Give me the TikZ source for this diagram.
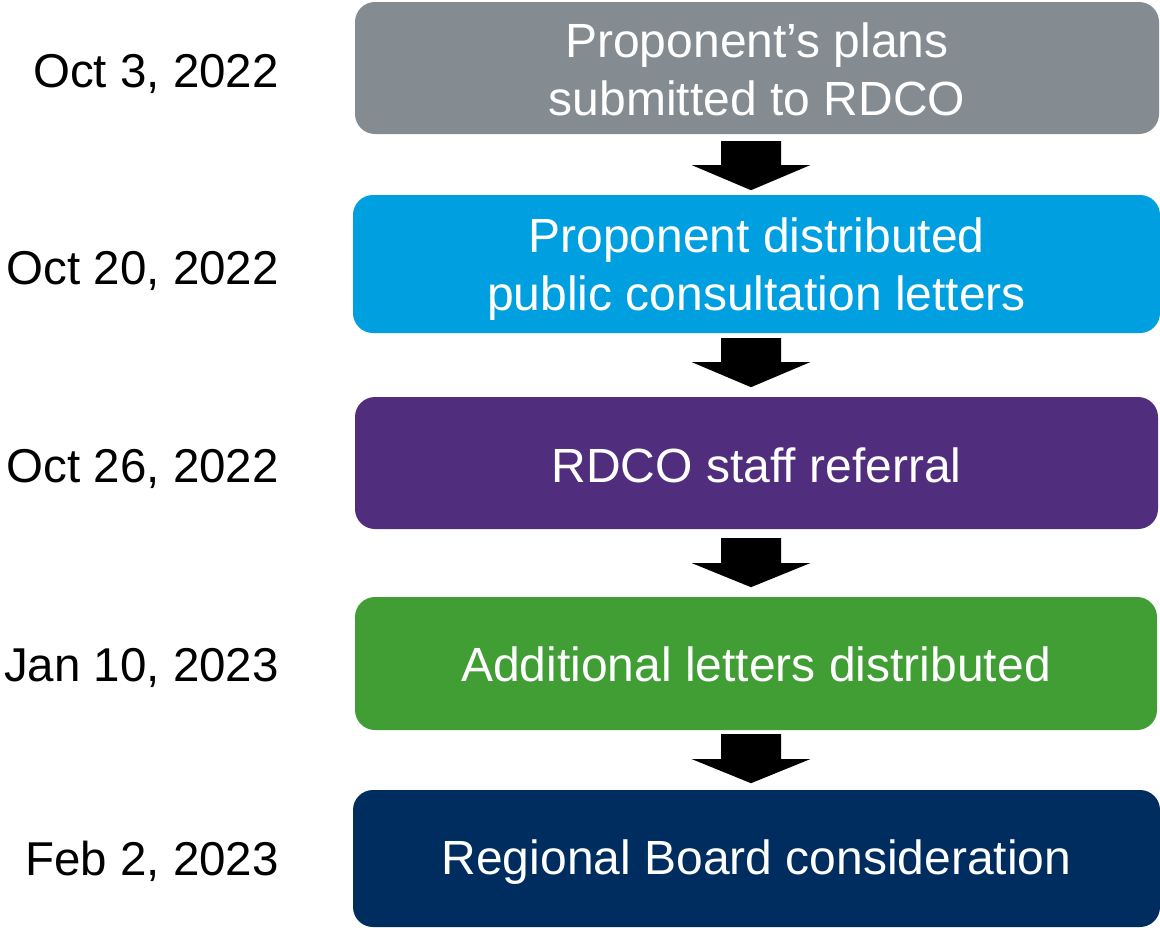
\documentclass[tikz,border=0pt]{standalone}
\usepackage{fontspec}
\setmainfont{Liberation Sans}
\usetikzlibrary{calc}
\definecolor{cgray}{HTML}{848B91}
\definecolor{ccyan}{HTML}{009FDF}
\definecolor{cpurple}{HTML}{512D7D}
\definecolor{cgreen}{HTML}{409E35}
\definecolor{cnavy}{HTML}{002D5F}
\tikzset{
  stepbox/.style={rounded corners=20pt, inner sep=0pt},
  steptext/.style={inner sep=0pt, text=white,
    font=\fontsize{48}{58}\selectfont, align=center},
  datelabel/.style={anchor=base east, inner sep=0pt, text=black,
    font=\fontsize{47.5}{58}\selectfont},
  blockarrow/.style={fill=black},
}
\newcommand{\blkarrow}[3]{% start coordinate, widen offset, tip offset
  \fill[blockarrow] (#1) ++(-30,0) -- ++(60,0) -- ++(0,#2) -- ++(29,0)
    -- ($(#1)+(0,#3)$) -- ($(#1)+(-59,#2)$) -- ($(#1)+(-30,#2)$) -- cycle;}
\begin{document}
\begin{tikzpicture}[x=1pt,y=-1pt]
\useasboundingbox[fill=white] (0,0) rectangle (1160,927);
\node[stepbox, fill=cgray, minimum width=804pt, minimum height=132pt] (b1) at (757,68) {};
\node[stepbox, fill=ccyan, minimum width=807pt, minimum height=138pt] (b2) at (756.5,264) {};
\node[stepbox, fill=cpurple, minimum width=803pt, minimum height=132pt] (b3) at (756.5,463) {};
\node[stepbox, fill=cgreen, minimum width=802pt, minimum height=133pt] (b4) at (756,663.5) {};
\node[stepbox, fill=cnavy, minimum width=807pt, minimum height=137pt] (b5) at (756.5,858.5) {};

\node[steptext] (t1) at ($(b1.center)+(0,1)$) {Proponent’s plans\\submitted to RDCO};
\node[steptext] (t2) at ($(b2.center)+(0,5)$) {Proponent distributed\\public consultation letters};
\node[steptext] (t3) at ($(b3.center)+(0,2)$) {RDCO staff referral};
\node[steptext] (t4) at ($(b4.center)+(0,1)$) {Additional letters distributed};
\node[steptext] (t5) at ($(b5.center)+(0,4)$) {Regional Board consideration};

\node[datelabel] (d1) at (279,87) {Oct 3, 2022};
\node[datelabel] (d2) at (279,284) {Oct 20, 2022};
\node[datelabel] (d3) at (279,482) {Oct 26, 2022};
\node[datelabel] (d4) at (279,681) {Jan 10, 2023};
\node[datelabel] (d5) at (279,875) {Feb 2, 2023};

\path (b1.south) ++(-6,7) coordinate (a1);
\path (b2.south) ++(-5.5,5) coordinate (a2);
\path (b3.south) ++(-5.5,9) coordinate (a3);
\path (b4.south) ++(-5,4) coordinate (a4);
\blkarrow{a1}{24}{49}
\blkarrow{a2}{24}{49}
\blkarrow{a3}{25}{49}
\blkarrow{a4}{25}{49}
\end{tikzpicture}
\end{document}
